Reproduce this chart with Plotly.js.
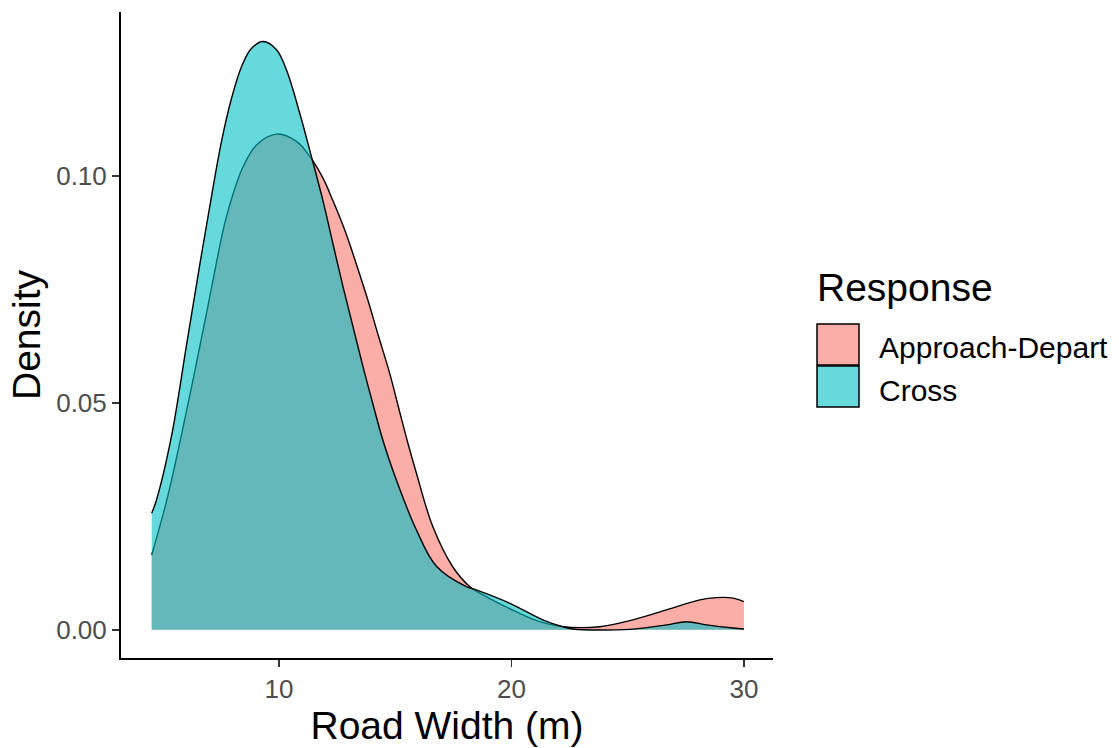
<!DOCTYPE html>
<html>
<head>
<meta charset="utf-8">
<script src="https://cdn.plot.ly/plotly-3.0.1.min.js"></script>
<style>html,body{margin:0;padding:0;background:#fff;}#chart{width:1119px;height:748px;}</style>
</head>
<body>
<div id="chart"></div>
<script>
// Data (kernel density estimates)
const approachX = [4.52, 5.21, 6.03, 6.85, 7.31, 7.66, 8.02, 8.45, 9.03, 9.89, 10.75, 11.32, 11.89, 12.32, 12.83, 13.33, 13.83, 14.26, 14.76, 15.19, 15.55, 15.91, 16.61, 17.47, 18.21, 18.91, 20.20, 21.21, 22.20, 23.79, 25.22, 26.67, 28.10, 28.82, 29.53, 30.0];
const approachY = [0.0165, 0.0294, 0.0485, 0.0690, 0.0810, 0.0895, 0.0960, 0.1020, 0.1068, 0.1092, 0.1076, 0.1043, 0.0995, 0.0945, 0.0880, 0.0805, 0.0725, 0.0650, 0.0565, 0.0480, 0.0410, 0.0345, 0.0228, 0.0139, 0.0095, 0.0073, 0.0040, 0.0018, 0.0007, 0.0007, 0.0022, 0.0044, 0.0066, 0.0071, 0.0070, 0.0062];
const crossX = [4.52, 4.72, 5.37, 6.03, 6.60, 7.09, 7.52, 7.95, 8.38, 8.80, 9.31, 9.89, 10.32, 10.89, 11.39, 11.89, 12.32, 12.75, 13.18, 13.61, 14.04, 14.50, 15.19, 15.91, 16.77, 18.06, 18.48, 19.91, 21.34, 22.20, 22.63, 25.09, 26.67, 27.53, 28.39, 29.53, 30.0];
const crossY = [0.0257, 0.0285, 0.0426, 0.0631, 0.0808, 0.0954, 0.1075, 0.1170, 0.1240, 0.1280, 0.1296, 0.1278, 0.1233, 0.1138, 0.1043, 0.0945, 0.0850, 0.0756, 0.0668, 0.0580, 0.0497, 0.0412, 0.0310, 0.0220, 0.0140, 0.0095, 0.0088, 0.0059, 0.0022, 0.0007, 0.0002, 0.0001, 0.0011, 0.0018, 0.0011, 0.0004, 0.0002];
const seriesNames = ["Approach-Depart", "Cross"];
const xTickVals = [10, 20, 30];
const yTickVals = [0, 0.05, 0.10];
const yTickText = ["0.00", "0.05", "0.10"];

const FONT = "Liberation Sans, Arial, sans-serif";
const fills = ["rgba(248,118,109,0.6)", "rgba(0,191,196,0.6)"];

const traces = [
  {x: approachX, y: approachY, name: seriesNames[0]},
  {x: crossX, y: crossY, name: seriesNames[1]}
].map((t, i) => Object.assign(t, {
  type: "scatter", mode: "lines", fill: "tozeroy",
  fillcolor: fills[i],
  line: {color: "#000", width: 1.4, shape: "spline", smoothing: 1},
  hoverinfo: "x+y+name", showlegend: false
}));

// custom legend (ggplot style large keys)
const L = 121, T = 12, PW = 652, PH = 646;
const px = v => (v - L) / PW;
const py = v => (T + PH - v) / PH;
const shapes = [
  {type: "rect", xref: "paper", yref: "paper", x0: px(817), x1: px(859), y0: py(365), y1: py(324), fillcolor: fills[0], line: {color: "#000", width: 1.5}},
  {type: "rect", xref: "paper", yref: "paper", x0: px(817), x1: px(859), y0: py(407), y1: py(366), fillcolor: fills[1], line: {color: "#000", width: 1.5}}
];
const annotations = [
  {text: "Response", xref: "paper", yref: "paper", x: px(815), y: py(287), xanchor: "left", yanchor: "middle", showarrow: false, font: {family: FONT, size: 39, color: "#000"}},
  {text: seriesNames[0], xref: "paper", yref: "paper", x: px(877), y: py(347), xanchor: "left", yanchor: "middle", showarrow: false, font: {family: FONT, size: 30, color: "#000"}},
  {text: seriesNames[1], xref: "paper", yref: "paper", x: px(877), y: py(390), xanchor: "left", yanchor: "middle", showarrow: false, font: {family: FONT, size: 30, color: "#000"}}
];

const layout = {
  width: 1119, height: 748,
  margin: {l: L, t: T, r: 1119 - L - PW, b: 748 - T - PH},
  paper_bgcolor: "#fff", plot_bgcolor: "#fff",
  font: {family: FONT},
  showlegend: false,
  xaxis: {
    range: [3.2, 31.25], tickvals: xTickVals, ticktext: xTickVals.map(String),
    showgrid: false, zeroline: false, showline: true, linecolor: "#000", linewidth: 2,
    ticks: "outside", ticklen: 7, tickwidth: 1.5, tickcolor: "#333",
    tickfont: {family: FONT, size: 26, color: "#4d4d4d"},
    title: {text: "Road Width (m)", font: {family: FONT, size: 39, color: "#000"}, standoff: 6}
  },
  yaxis: {
    range: [-0.0062, 0.1361], tickvals: yTickVals, ticktext: yTickText,
    showgrid: false, zeroline: false, showline: true, linecolor: "#000", linewidth: 2,
    ticks: "outside", ticklen: 7, tickwidth: 1.5, tickcolor: "#333",
    tickfont: {family: FONT, size: 26, color: "#4d4d4d"},
    title: {text: "Density", font: {family: FONT, size: 39, color: "#000"}, standoff: 4}
  },
  shapes: shapes, annotations: annotations
};

Plotly.newPlot("chart", traces, layout, {displayModeBar: false, staticPlot: true});
</script>
</body>
</html>
